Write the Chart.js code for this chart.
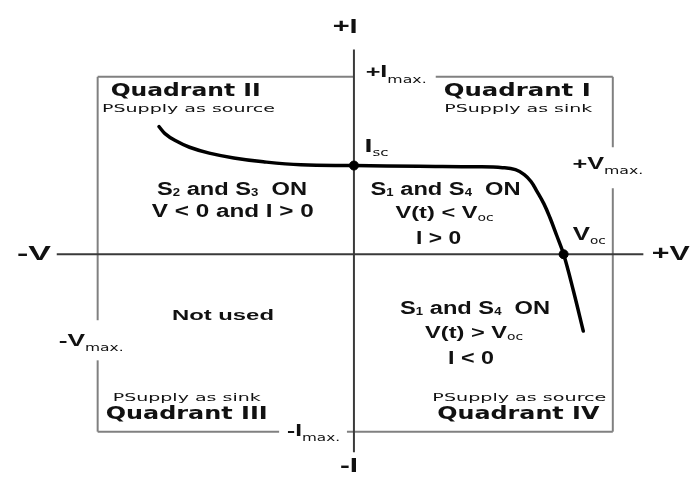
<!DOCTYPE html>
<html>
<head>
<meta charset="utf-8">
<script src="https://cdn.jsdelivr.net/npm/chart.js@4/dist/chart.umd.min.js"></script>
<style>
html,body{margin:0;padding:0;background:#fff;}
#wrap{width:697px;height:484px;position:relative;}
</style>
</head>
<body>
<div id="wrap"><canvas id="c"></canvas></div>
<script>
// ---- Data (V in units of Vmax, I in units of Imax) ----
const curveV = [-0.753,-0.730,-0.692,-0.635,-0.559,-0.464,-0.350,-0.205,0.000,0.251,0.479,0.574,0.624,0.658,0.684,0.707,0.734,0.757,0.783,0.810,0.848,0.886];
const curveI = [0.719,0.680,0.642,0.603,0.570,0.543,0.521,0.504,0.500,0.496,0.493,0.488,0.477,0.449,0.410,0.355,0.284,0.207,0.107,0.000,-0.207,-0.433];
const markerNames = ['Isc','Voc'];
const markerV = [0, 0.810];
const markerI = [0.500, 0];
const axisNames = ['+I','-I','-V','+V'];
const quadrantNames = ['Quadrant I','Quadrant II','Quadrant III','Quadrant IV'];
const quadrantRoles = ['PSupply as sink','PSupply as source','PSupply as sink','PSupply as source'];

// ---- fonts ----
const F = {
  axis: 'bold 21px "Liberation Sans", Arial, sans-serif',
  quad: 'bold 17px "DejaVu Sans", Verdana, sans-serif',
  role: '10px "DejaVu Sans", Verdana, sans-serif',
  body: 'bold 18px "Liberation Sans", Arial, sans-serif',
  body17: 'bold 17px "Liberation Sans", Arial, sans-serif',
  sub: 'bold 10px "Liberation Sans", Arial, sans-serif',
  lim: 'bold 16px "Liberation Sans", Arial, sans-serif',
  lim17: 'bold 17px "Liberation Sans", Arial, sans-serif',
  lim19: 'bold 19px "Liberation Sans", Arial, sans-serif',
  max: '10px "DejaVu Sans", Verdana, sans-serif',
  ocsc: '10px "DejaVu Sans", Verdana, sans-serif',
  nu: 'bold 15px "Liberation Sans", Arial, sans-serif'
};

// labels: position in (V,I) units, target width in px, runs [text, font, dy]
const labels = [
  {v:-0.034,i:1.281,w:25,runs:[[axisNames[0],F.axis,0]]},
  {v:-0.019,i:-1.193,w:18,runs:[[axisNames[1],F.axis,0]]},
  {v:-1.236,i:0.0,w:34,runs:[[axisNames[2],F.axis,0]]},
  {v:1.224,i:0.0,w:38,runs:[[axisNames[3],F.axis,0]]},
  {v:0.631,i:0.915,w:147,runs:[[quadrantNames[0],F.quad,0]]},
  {v:0.635,i:0.818,w:148,runs:[[quadrantRoles[0],F.role,0]]},
  {v:-0.650,i:0.915,w:150,runs:[[quadrantNames[1],F.quad,0]]},
  {v:-0.639,i:0.818,w:173,runs:[[quadrantRoles[1],F.role,0]]},
  {v:-0.646,i:-0.904,w:162,runs:[[quadrantNames[2],F.quad,0]]},
  {v:-0.646,i:-0.810,w:148,runs:[[quadrantRoles[2],F.role,0]]},
  {v:0.635,i:-0.904,w:162,runs:[[quadrantNames[3],F.quad,0]]},
  {v:0.639,i:-0.810,w:174,runs:[[quadrantRoles[3],F.role,0]]},
  {v:-0.506,i:-0.347,w:102,runs:[['Not used',F.nu,0]]},
  {v:-0.471,i:0.364,w:150,runs:[['S',F.body,0],['2',F.sub,4],[' and S',F.body,0],['3',F.sub,4],['  ON',F.body,0]]},
  {v:-0.468,i:0.240,w:162,runs:[['V < 0 and I > 0',F.body,0]]},
  {v:0.354,i:0.364,w:150,runs:[['S',F.body,0],['1',F.sub,4],[' and S',F.body,0],['4',F.sub,4],['  ON',F.body,0]]},
  {v:0.350,i:0.231,w:98,runs:[['V(t) < V',F.body17,0],['oc',F.ocsc,5]]},
  {v:0.327,i:0.088,w:45,runs:[['I > 0',F.body,0]]},
  {v:0.468,i:-0.306,w:150,runs:[['S',F.body,0],['1',F.sub,4],[' and S',F.body,0],['4',F.sub,4],['  ON',F.body,0]]},
  {v:0.464,i:-0.443,w:98,runs:[['V(t) > V',F.body17,0],['oc',F.ocsc,5]]},
  {v:0.452,i:-0.590,w:46,runs:[['I < 0',F.body,0]]},
  {v:0.087,i:0.603,w:24,runs:[['I',F.lim19,0],['sc',F.ocsc,6]]},
  {v:0.909,i:0.107,w:33,runs:[['V',F.lim19,0],['oc',F.ocsc,6]]},
  {v:0.981,i:0.507,w:71,runs:[['+V',F.lim,0],['max.',F.max,7]]},
  {v:-1.015,i:-0.490,w:65,runs:[['-V',F.lim17,0],['max.',F.max,7]]},
  {v:0.163,i:1.022,w:61,runs:[['+I',F.lim,0],['max.',F.max,7]]},
  {v:-0.156,i:-1.000,w:53,runs:[['-I',F.lim,0],['max.',F.max,7]]}
];

// axis lines and box segments in (V,I) units
const axisLines = [
  [[0,1.154],[0,-1.116]],
  [[-1.148,0],[1.118,0]]
];
const boxSegments = [
  [[-0.99,1.0],[0.0,1.0]],
  [[0.316,1.0],[1.0,1.0]],
  [[1.0,1.0],[1.0,0.603]],
  [[1.0,0.372],[1.0,-1.0]],
  [[1.0,-1.0],[-0.027,-1.0]],
  [[-0.289,-1.0],[-0.99,-1.0]],
  [[-0.99,-1.0],[-0.99,-0.598]],
  [[-0.99,-0.372],[-0.99,1.0]]
];

const curveData = curveV.map((v,k)=>({x:v,y:curveI[k]}));
const markerData = markerV.map((v,k)=>({x:v,y:markerI[k]}));

const diagramPlugin = {
  id:'diagram',
  beforeDatasetsDraw(chart){
    const ctx = chart.ctx, xs = chart.scales.x, ys = chart.scales.y;
    const seg = (s)=>{
      ctx.beginPath();
      ctx.moveTo(xs.getPixelForValue(s[0][0]), ys.getPixelForValue(s[0][1]));
      ctx.lineTo(xs.getPixelForValue(s[1][0]), ys.getPixelForValue(s[1][1]));
      ctx.stroke();
    };
    ctx.save();
    ctx.lineCap = 'butt';
    ctx.strokeStyle = '#808080'; ctx.lineWidth = 2;
    boxSegments.forEach(seg);
    ctx.strokeStyle = '#3a3a3a'; ctx.lineWidth = 2;
    axisLines.forEach(seg);
    ctx.restore();
  },
  afterDraw(chart){
    const ctx = chart.ctx, xs = chart.scales.x, ys = chart.scales.y;
    ctx.save();
    ctx.fillStyle = '#111';
    ctx.textBaseline = 'middle';
    ctx.textAlign = 'left';
    labels.forEach(L=>{
      let total = 0;
      const ws = L.runs.map(r=>{ ctx.font = r[1]; const w = ctx.measureText(r[0]).width; total += w; return w; });
      const sc = L.w/total;
      const px = xs.getPixelForValue(L.v), py = ys.getPixelForValue(L.i);
      ctx.save();
      ctx.translate(px - L.w/2, py);
      ctx.scale(sc,1);
      let x = 0;
      L.runs.forEach((r,k)=>{ ctx.font = r[1]; ctx.fillText(r[0], x, r[2]); x += ws[k]; });
      ctx.restore();
    });
    ctx.restore();
  }
};

new Chart(document.getElementById('c'), {
  type:'scatter',
  data:{
    datasets:[
      {label:'I-V curve', data:curveData, showLine:true, borderColor:'#000', borderWidth:3.5,
       pointRadius:0, tension:0.4, fill:false, borderCapStyle:'round'},
      {label:'points', data:markerData, showLine:false, pointRadius:4.5,
       pointBackgroundColor:'#000', pointBorderColor:'#000'}
    ]
  },
  options:{
    responsive:true, maintainAspectRatio:false, animation:false,
    layout:{padding:0},
    plugins:{legend:{display:false}, tooltip:{enabled:false}},
    scales:{
      x:{type:'linear', min:-1.346, max:1.304, display:false},
      y:{type:'linear', min:-1.264, max:1.402, display:false}
    }
  },
  plugins:[diagramPlugin]
});
</script>
</body>
</html>
